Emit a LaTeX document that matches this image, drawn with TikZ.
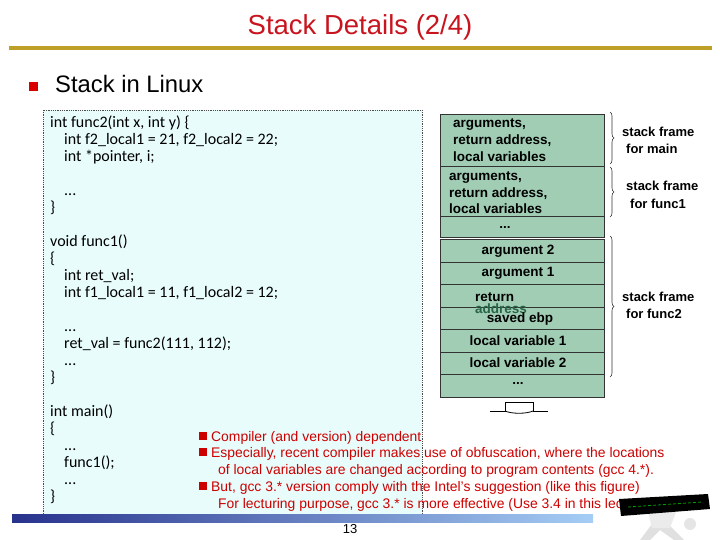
\documentclass[tikz,border=0pt]{standalone}
\usepackage{fontspec}
\setmainfont{Liberation Sans}
\newfontfamily\codefont{Carlito}
\newfontfamily\stkfont{Liberation Sans}
\usetikzlibrary{decorations.pathreplacing}
\definecolor{titlered}{RGB}{200,20,30}
\definecolor{notered}{RGB}{205,0,0}
\definecolor{gold}{RGB}{190,160,40}
\definecolor{codebg}{RGB}{232,252,252}
\definecolor{stackfill}{RGB}{160,205,180}
\definecolor{addrgreen}{RGB}{40,100,70}
\definecolor{barleft}{RGB}{40,50,140}
\definecolor{barright}{RGB}{165,205,245}
\tikzset{
  code/.style={anchor=base west,inner sep=0pt,font=\codefont\fontsize{16}{18}\selectfont},
  cell/.style={draw=black!80,line width=0.8pt,fill=stackfill},
  stk/.style={inner sep=0pt,font=\stkfont\bfseries\fontsize{13.5}{15}\selectfont},
  stkl/.style={stk,anchor=base west},
  note/.style={anchor=base west,inner sep=0pt,text=notered,font=\fontsize{13.9}{15}\selectfont},
  nbul/.style={fill=notered,minimum size=8pt,inner sep=0pt},
  brc/.style={decorate,decoration={brace,amplitude=4pt},draw=black!80,line width=0.6pt},
  flab/.style={stkl,font=\stkfont\bfseries\fontsize{13}{15}\selectfont}
}
\begin{document}
\begin{tikzpicture}[x=1pt,y=-1pt]
\useasboundingbox (0,0) rectangle (720,540);
% title
\node[text=titlered,font=\fontsize{27.5}{30}\selectfont,inner sep=0pt] (title) at (360,27) {Stack Details (2/4)};
\fill[gold] (9,46.5) rectangle (712,50.5);
% bullet
\node[fill=red!85!black,minimum size=9pt,inner sep=0pt] (b0) at (33,87) {};
\node[anchor=base west,inner sep=0pt,font=\fontsize{23.8}{26}\selectfont] (sub) at (55,93) {Stack in Linux};
% code box
\draw[fill=codebg,draw=black!70,densely dotted,line width=0.8pt] (43,110) rectangle (422,514);
\node[code] (c1) at (50,128) {int func2(int x, int y) \{};
\node[code] (c2) at (64,145) {int f2\_local1 = 21, f2\_local2 = 22;};
\node[code] (c3) at (64,162) {int *pointer, i;};
\node[code] (c4) at (64,196) {...};
\node[code] (c5) at (50,213) {\}};
\node[code] (c6) at (50,246) {void func1()};
\node[code] (c7) at (50,263) {\{};
\node[code] (c8) at (64,280) {int ret\_val;};
\node[code] (c9) at (64,297) {int f1\_local1 = 11, f1\_local2 = 12;};
\node[code] (c10) at (64,331) {...};
\node[code] (c11) at (64,348) {ret\_val = func2(111, 112);};
\node[code] (c12) at (64,365) {...};
\node[code] (c13) at (50,382) {\}};
\node[code] (c14) at (50,416) {int main()};
\node[code] (c15) at (50,433) {\{};
\node[code] (c16) at (64,450) {...};
\node[code] (c17) at (64,467) {func1();};
\node[code] (c18) at (64,484) {...};
\node[code] (c19) at (50,501) {\}};
% stack
\draw[cell] (440,114) rectangle (604,166);
\draw[cell] (440,166) rectangle (604,216);
\draw[cell] (440,216) rectangle (604,237);
\draw[cell] (440,239) rectangle (604,262);
\draw[cell] (440,262) rectangle (604,284);
\draw[cell] (440,284) rectangle (604,307);
\draw[cell] (440,307) rectangle (604,329);
\draw[cell] (440,329) rectangle (604,352);
\draw[cell] (440,352) rectangle (604,374);
\draw[cell] (440,374) rectangle (604,397);
\draw[black!80,line width=1.2pt] (440,237.5) -- (604,237.5);
\node[stkl] (m1) at (453,128) {arguments,};
\node[stkl] (m2) at (453,145) {return address,};
\node[stkl] (m3) at (453,162) {local variables};
\node[stkl] (f1) at (449,181) {arguments,};
\node[stkl] (f2) at (449,198) {return address,};
\node[stkl] (f3) at (449,214) {local variables};
\node[stk] (d1) at (505,227) {...};
\node[stk] (a2) at (518,251) {argument 2};
\node[stk] (a1) at (518,273) {argument 1};
\node[stkl] (ret) at (475,301) {return};
\node[stkl,text=addrgreen] (addr) at (475,313) {address};
\node[stk] (ebp) at (520,319) {saved ebp};
\node[stk] (l1) at (518,341) {local variable 1};
\node[stk] (l2) at (518,363) {local variable 2};
\node[stk] (d2) at (518,383) {...};
% braces
\coordinate (bm1) at (610,112); \coordinate (bm2) at (610,164);
\coordinate (bf1) at (610,167); \coordinate (bf2) at (610,217);
\coordinate (bg1) at (610,236); \coordinate (bg2) at (610,377);
\draw[brc] (bm1) -- (bm2);
\draw[brc] (bf1) -- (bf2);
\draw[brc] (bg1) -- (bg2);
\node[flab] (lm1) at (622,137) {stack frame};
\node[flab] (lm2) at (626,154) {for main};
\node[flab] (lf1) at (626,191) {stack frame};
\node[flab] (lf2) at (630,208) {for func1};
\node[flab] (lg1) at (622,301) {stack frame};
\node[flab] (lg2) at (626,318) {for func2};
% growth marker
\draw[black,line width=0.8pt] (490,411) -- (505,411) -- (505,402) -- (533,402) -- (533,411) -- (548,411);
\draw[black,line width=0.8pt] (505,411) .. controls (512,414) and (526,414) .. (533,411);
% notes
\node[nbul] (n1b) at (203,436) {};
\node[note] (n1) at (211,441) {Compiler (and version) dependent};
\node[nbul] (n2b) at (203,452) {};
\node[note] (n2) at (211,457) {Especially, recent compiler makes use of obfuscation, where the locations};
\node[note] (n2c) at (218,474) {of local variables are changed according to program contents (gcc 4.*).};
\node[nbul] (n3b) at (203,486) {};
\node[note] (n3) at (211,491) {But, gcc 3.* version comply with the Intel's suggestion (like this figure)};
\node[note] (n3c) at (218,508) {For lecturing purpose, gcc 3.* is more effective (Use 3.4 in this lecture note)};
% bottom bar
\shade[left color=barleft,right color=barright] (12,514) rectangle (593,522);
\node[font=\fontsize{13}{15}\selectfont,inner sep=0pt] (pg) at (350,529) {13};
% clipart
\fill[black!12] (640,540) -- (652,524) -- (668,524) -- (684,540) -- (674,540) -- (660,530) -- (650,540) -- cycle;
\fill[black!8] (648,512) -- (676,512) -- (670,528) -- (652,528) -- cycle;
\fill[black!10] (690,524) circle (6);
\fill[black] (619,499) -- (708,494) -- (710,509) -- (621,516) -- cycle;
\draw[green!60!black,densely dashed,line width=0.8pt] (628,507) -- (702,502);
\end{tikzpicture}
\end{document}
